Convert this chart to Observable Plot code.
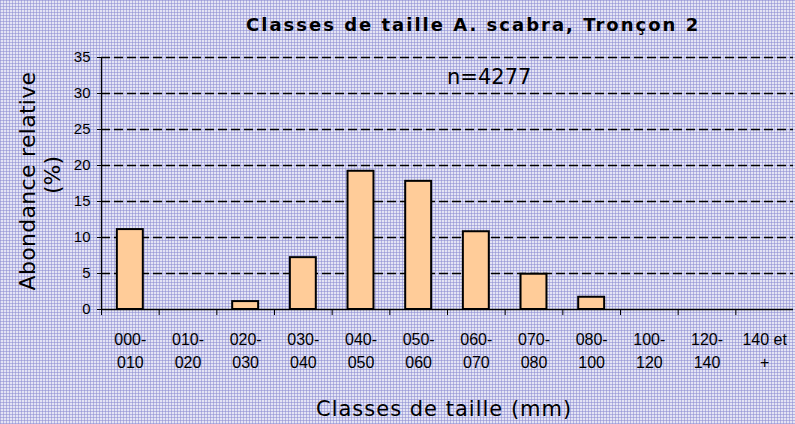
<!DOCTYPE html>
<html>
<head>
<meta charset="utf-8">
<script src="https://cdn.jsdelivr.net/npm/d3@7"></script>
<script src="https://cdn.jsdelivr.net/npm/@observablehq/plot@0.6"></script>
<style>
  html, body { margin: 0; padding: 0; }
  body {
    width: 795px; height: 424px; overflow: hidden; position: relative;
    background-color: #e4e4f4;
    background-image:
      repeating-linear-gradient(0deg, rgba(140,140,210,0.55) 0 1px, transparent 1px 3px),
      repeating-linear-gradient(90deg, rgba(140,140,210,0.55) 0 1px, transparent 1px 3px);
    font-family: "Liberation Sans", Arial, sans-serif;
  }
  #chart, #overlay { position: absolute; left: 0; top: 0; }
  #overlay text { font-family: "DejaVu Sans", sans-serif; fill: #000; }
</style>
</head>
<body>
<div id="chart"></div>
<svg id="overlay" width="795" height="424">
  <text x="246" y="31" font-size="18" font-weight="bold" letter-spacing="2">Classes de taille A. scabra, Tronçon 2</text>
  <text x="447" y="84" font-size="21">n=4277</text>
  <text x="316" y="415.5" font-size="21" letter-spacing="1">Classes de taille (mm)</text>
  <text transform="translate(35,181) rotate(-90)" text-anchor="middle" font-size="22" letter-spacing="0.3">Abondance relative</text>
  <text transform="translate(60,175) rotate(-90)" text-anchor="middle" font-size="22">(%)</text>
</svg>
<script>
const categories = ["000-010","010-020","020-030","030-040","040-050","050-060","060-070","070-080","080-100","100-120","120-140","140 et +"];
const tickLabels = ["000-\n010","010-\n020","020-\n030","030-\n040","040-\n050","050-\n060","060-\n070","070-\n080","080-\n100","100-\n120","120-\n140","140 et\n+"];
const values = [11.1, 0, 1.1, 7.2, 19.2, 17.8, 10.8, 4.9, 1.7, 0, 0, 0];
const yTicks = [0, 5, 10, 15, 20, 25, 30, 35];

const data = categories.map((c, i) => ({cat: c, v: values[i], label: tickLabels[i]}));

const W = 795, H = 424, mL = 101, mR = 2, mT = 57, mB = 115;
const step = (W - mL - mR) / categories.length;

const chart = Plot.plot({
  width: W, height: H,
  marginLeft: mL, marginRight: mR, marginTop: mT, marginBottom: mB,
  style: {background: "transparent", fontFamily: "'Liberation Sans', Arial, sans-serif", color: "#000"},
  x: {type: "band", domain: categories, paddingInner: 0.55, paddingOuter: 0.275, round: false, label: null},
  y: {domain: [0, 35], label: null},
  marks: [
    Plot.ruleY(yTicks.filter(d => d > 0), {stroke: "#000", strokeWidth: 1.3, strokeDasharray: "9,4"}),
    Plot.barY(data, {x: "cat", y: "v", fill: "#ffcc99", stroke: "#000", strokeWidth: 2,
      filter: d => d.v > 0}),
    Plot.ruleY([0], {stroke: "#000", strokeWidth: 1.3}),
    Plot.ruleX([0], {x: () => categories[0], dx: -step / 2, y1: 0, y2: 35, stroke: "#000", strokeWidth: 1.3}),
    Plot.axisY({ticks: yTicks, tickSize: 4, tickPadding: 7, fontSize: 15, tickFormat: d => String(d), label: null}),
    Plot.axisX({tickSize: 6, dx: -step / 2, tickFormat: () => "", label: null}),
    Plot.text(data, {x: "cat", y: 0, text: "label", dy: 20, lineAnchor: "top", fontSize: 16, lineHeight: 1.4, letterSpacing: "-0.5px"})
  ]
});
document.getElementById("chart").appendChild(chart);
</script>
</body>
</html>
